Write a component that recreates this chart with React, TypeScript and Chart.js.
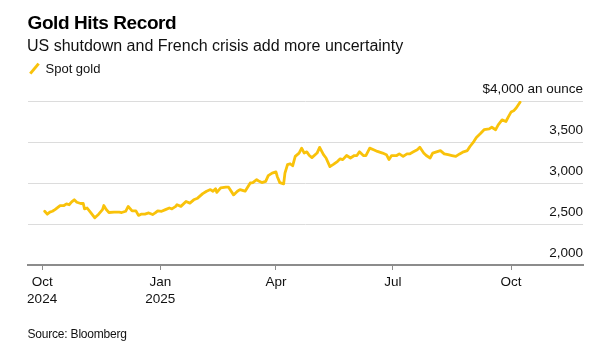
import React, { useEffect, useRef } from 'react';
import { Chart, registerables } from 'chart.js';

Chart.register(...registerables);

const FONT = "'Liberation Sans', Arial, Helvetica, sans-serif";
const GOLD = '#F9C20A';

const titleText = 'Gold Hits Record';
const subtitleText = 'US shutdown and French crisis add more uncertainty';
const seriesName = 'Spot gold';
const sourceText = 'Source: Bloomberg';

// Days since 1 Oct 2024
const daysSinceOct1_2024 = [
  2, 4, 6, 8, 10, 12, 14, 17, 19, 21,
  23, 25, 27, 30, 32, 33, 35, 38, 41, 44,
  47, 48, 50, 52, 56, 60, 62, 65, 67, 70,
  73, 75, 77, 80, 83, 86, 88, 90, 93, 96,
  99, 101, 104, 105, 108, 112, 115, 118, 121, 125,
  128, 131, 133, 135, 136, 139, 143, 145, 149, 152,
  154, 158, 162, 164, 167, 169, 171, 174, 176, 179,
  182, 183, 185, 188, 189, 191, 193, 195, 197, 200,
  202, 204, 206, 208, 210, 214, 216, 219, 221, 224,
  227, 230, 232, 234, 237, 240, 243, 245, 247, 250,
  252, 255, 258, 261, 265, 268, 270, 272, 276, 278,
  281, 284, 286, 289, 292, 294, 297, 299, 302, 304,
  307, 310, 313, 316, 319, 322, 325, 328, 331, 333,
  336, 338, 341, 344, 348, 350, 353, 355, 358, 361,
  363, 365, 367, 369, 372,
];

// Spot gold, USD per ounce
const spotGold = [
  2655, 2620, 2645, 2655, 2675, 2700, 2725, 2725, 2745, 2735,
  2770, 2795, 2765, 2750, 2750, 2685, 2695, 2635, 2575, 2620,
  2675, 2725, 2675, 2640, 2645, 2645, 2640, 2655, 2715, 2660,
  2660, 2605, 2620, 2620, 2635, 2615, 2635, 2660, 2655, 2675,
  2695, 2685, 2715, 2735, 2715, 2775, 2755, 2795, 2815, 2870,
  2900, 2920, 2900, 2930, 2885, 2940, 2950, 2950, 2855, 2900,
  2920, 2900, 3000, 3005, 3040, 3020, 3005, 3020, 3090, 3120,
  3135, 3080, 3005, 2990, 3120, 3225, 3235, 3210, 3325, 3365,
  3425, 3365, 3380, 3335, 3310, 3365, 3435, 3345, 3305, 3200,
  3230, 3265, 3295, 3285, 3335, 3305, 3335, 3335, 3380, 3335,
  3335, 3425, 3405, 3385, 3365, 3345, 3285, 3335, 3335, 3355,
  3325, 3355, 3355, 3380, 3405, 3435, 3365, 3335, 3305, 3365,
  3380, 3395, 3355, 3345, 3335, 3325, 3355, 3380, 3395, 3445,
  3505, 3555, 3600, 3650, 3660, 3680, 3650, 3710, 3770, 3750,
  3810, 3865, 3880, 3915, 3985,
];

const xTickDays = [0, 92, 182, 273, 365];
const xTickLabels = [['Oct', '2024'], ['Jan', '2025'], ['Apr'], ['Jul'], ['Oct']];
const yTicks = [2000, 2500, 3000, 3500, 4000];
const yTopLabel = '$4,000 an ounce';

export default function App() {
  const canvasRef = useRef<HTMLCanvasElement | null>(null);

  useEffect(() => {
    const canvas = canvasRef.current;
    if (!canvas) return;
    const chart = new Chart(canvas, {
      type: 'line',
      data: {
        datasets: [
          {
            label: seriesName,
            data: daysSinceOct1_2024.map((d, i) => ({ x: d, y: spotGold[i] })),
            borderColor: GOLD,
            backgroundColor: GOLD,
            borderWidth: 2.8,
            pointRadius: 0,
            tension: 0,
            borderJoinStyle: 'round',
            borderCapStyle: 'round',
          },
        ],
      },
      options: {
        responsive: false,
        animation: false,
        devicePixelRatio: 1,
        layout: { padding: { left: 28, right: 28, top: 101, bottom: 0 } },
        plugins: {
          legend: { display: false },
          tooltip: { enabled: false },
          title: { display: false },
        },
        scales: {
          x: {
            type: 'linear',
            min: -11,
            max: 421,
            afterBuildTicks: (s: any) => {
              s.ticks = xTickDays.map((v) => ({ value: v }));
            },
            afterFit: (s: any) => {
              s.height = 97;
            },
            ticks: {
              autoSkip: false,
              maxRotation: 0,
              minRotation: 0,
              padding: 4.5,
              color: '#111',
              font: { family: FONT, size: 13.5, lineHeight: 1.2 },
              callback: (v: any) => {
                const i = xTickDays.indexOf(Number(v));
                return i >= 0 ? xTickLabels[i] : '';
              },
            },
            grid: {
              display: true,
              drawOnChartArea: false,
              drawTicks: true,
              tickLength: 5,
              color: '#8c8c8c',
              lineWidth: 1,
            },
            border: { display: true, color: '#8c8c8c', width: 2 },
          },
          y: {
            position: 'right',
            min: 2000,
            max: 4000,
            afterBuildTicks: (s: any) => {
              s.ticks = yTicks.map((v) => ({ value: v }));
            },
            afterFit: (s: any) => {
              s.width = 0;
            },
            ticks: {
              mirror: true,
              padding: 0,
              labelOffset: -11.5,
              color: '#111',
              font: { family: FONT, size: 13.5 },
              callback: (v: any) =>
                Number(v) === 4000 ? yTopLabel : Number(v).toLocaleString('en-US'),
            },
            grid: { color: '#dcdcdc', lineWidth: 1, drawTicks: false },
            border: { display: false },
          },
        },
      },
    });
    return () => chart.destroy();
  }, []);

  const base: React.CSSProperties = {
    position: 'absolute',
    whiteSpace: 'nowrap',
    fontFamily: FONT,
    color: '#111',
    margin: 0,
  };

  return (
    <div
      style={{
        position: 'fixed',
        left: 0,
        top: 0,
        width: 611,
        height: 362,
        background: '#fff',
        overflow: 'hidden',
      }}
    >
      <canvas ref={canvasRef} width={611} height={362} style={{ display: 'block' }} />
      <div
        style={{
          ...base,
          left: 27.5,
          top: 13.2,
          fontSize: 19,
          lineHeight: '19px',
          fontWeight: 700,
          letterSpacing: '-0.4px',
          color: '#000',
        }}
      >
        {titleText}
      </div>
      <div style={{ ...base, left: 27, top: 37.5, fontSize: 16, lineHeight: '16px' }}>
        {subtitleText}
      </div>
      <div
        style={{
          position: 'absolute',
          left: 32.5,
          top: 61.5,
          width: 2.6,
          height: 13,
          background: GOLD,
          transform: 'rotate(40deg)',
        }}
      />
      <div style={{ ...base, left: 45.5, top: 61.7, fontSize: 13, lineHeight: '13px' }}>
        {seriesName}
      </div>
      <div
        style={{
          ...base,
          left: 27.5,
          top: 327.5,
          fontSize: 12,
          lineHeight: '12px',
          letterSpacing: '-0.2px',
        }}
      >
        {sourceText}
      </div>
    </div>
  );
}
